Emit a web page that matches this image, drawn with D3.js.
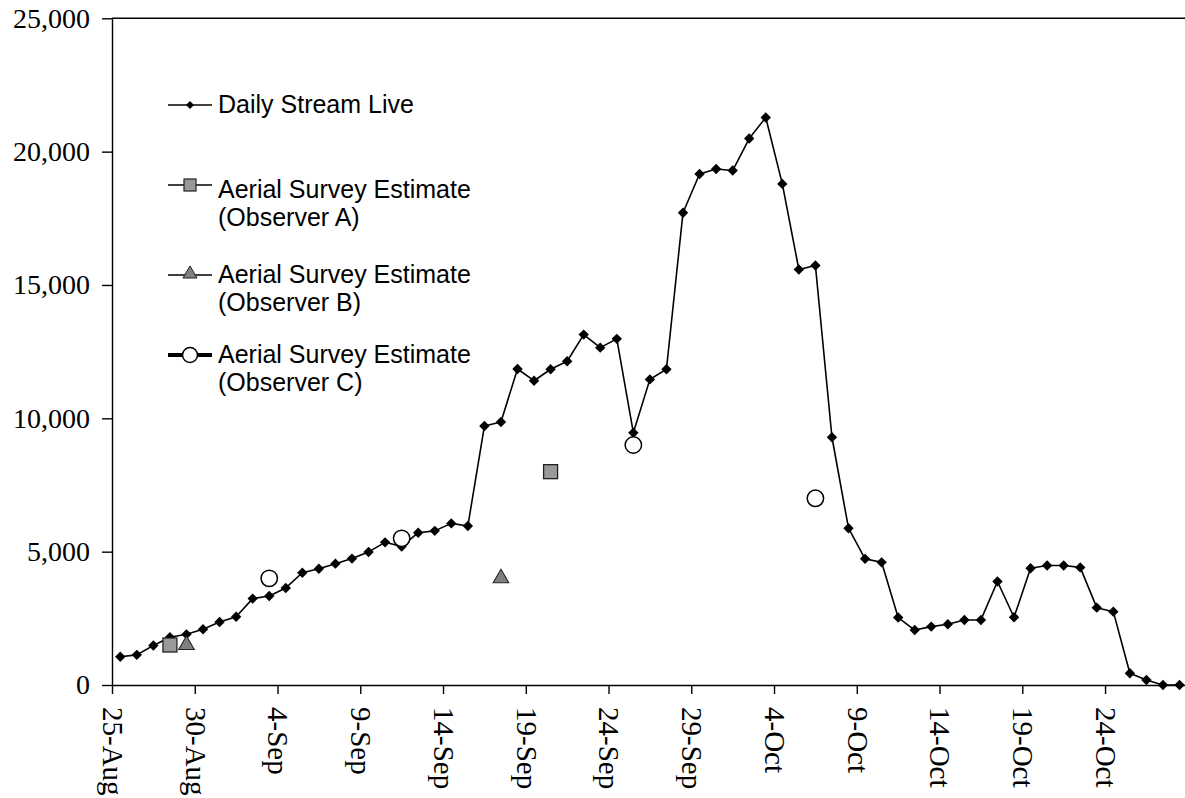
<!DOCTYPE html>
<html>
<head>
<meta charset="utf-8">
<script src="https://cdn.jsdelivr.net/npm/d3@7"></script>
<style>
  html, body { margin: 0; padding: 0; background: #fff; }
  svg { display: block; }
  .axis text { font-family: "Liberation Serif", "Times New Roman", serif; font-size: 28px; fill: #000; }
  .axis.x text { font-size: 29px; }
  .axis path, .axis line { stroke: #000; stroke-width: 1.4; }
  .legend text { font-family: "Liberation Sans", Arial, sans-serif; font-size: 25px; fill: #000; }
</style>
</head>
<body>
<svg id="chart" width="1185" height="798"></svg>
<script>
// Daily counts starting 25-Aug, one value per day through 28-Oct
const startDay = "2001-08-25";
const dailyStreamLive = [
  1060, 1130, 1480, 1790, 1900, 2090, 2360, 2560, 3240, 3340,
  3640, 4210, 4360, 4550, 4740, 4990, 5350, 5190, 5710, 5780,
  6060, 5960, 9710, 9860, 11850, 11410, 11840, 12140, 13140, 12650,
  12980, 9460, 11460, 11840, 17710, 19160, 19350, 19290, 20490, 21280,
  18790, 15580, 15730, 9290, 5880, 4730, 4600, 2530, 2060, 2190,
  2280, 2440, 2440, 3880, 2540, 4380, 4480, 4480, 4410, 2900,
  2750, 440, 190, 0, 0
];

// Aerial survey estimates by observer
const observerADates = ["2001-08-28", "2001-09-20"];
const observerAValues = [1500, 8000];
const observerBDates = ["2001-08-29", "2001-09-17"];
const observerBValues = [1500, 4000];
const observerCDates = ["2001-09-03", "2001-09-11", "2001-09-25", "2001-10-06"];
const observerCValues = [4000, 5500, 9000, 7000];

// Axis ticks
const xTickDates = ["2001-08-25", "2001-08-30", "2001-09-04", "2001-09-09", "2001-09-14",
  "2001-09-19", "2001-09-24", "2001-09-29", "2001-10-04", "2001-10-09",
  "2001-10-14", "2001-10-19", "2001-10-24"];
const xTickLabels = ["25-Aug", "30-Aug", "4-Sep", "9-Sep", "14-Sep", "19-Sep", "24-Sep",
  "29-Sep", "4-Oct", "9-Oct", "14-Oct", "19-Oct", "24-Oct"];
const yTickValues = [0, 5000, 10000, 15000, 20000, 25000];

const legendLabels = [
  ["Daily Stream Live"],
  ["Aerial Survey Estimate", "(Observer A)"],
  ["Aerial Survey Estimate", "(Observer B)"],
  ["Aerial Survey Estimate", "(Observer C)"]
];

const parse = d3.utcParse("%Y-%m-%d");
const start = parse(startDay);
const endExclusive = d3.utcDay.offset(start, dailyStreamLive.length);
const mid = d => d3.utcHour.offset(d, 12);

const svg = d3.select("#chart");
const plotLeft = 112, plotTop = 18.3, plotBottom = 685, plotRight = 1187.8;

const x = d3.scaleUtc().domain([start, endExclusive]).range([plotLeft, plotRight]);
const y = d3.scaleLinear().domain([0, 25000]).range([plotBottom, plotTop]);

const daily = dailyStreamLive.map((v, i) => ({ date: d3.utcDay.offset(start, i), value: v }));
const pack = (dates, values) => dates.map((d, i) => ({ date: parse(d), value: values[i] }));
const obsA = pack(observerADates, observerAValues);
const obsB = pack(observerBDates, observerBValues);
const obsC = pack(observerCDates, observerCValues);

// Top border of the plot area
svg.append("line")
  .attr("x1", plotLeft).attr("x2", plotRight)
  .attr("y1", y(25000)).attr("y2", y(25000))
  .attr("stroke", "#000").attr("stroke-width", 1.4);

// Y axis
svg.append("g").attr("class", "axis y")
  .attr("transform", `translate(${plotLeft},0)`)
  .call(d3.axisLeft(y).tickValues(yTickValues).tickFormat(d3.format(","))
    .tickSize(10).tickSizeOuter(0).tickPadding(12));

// X axis with rotated date labels
const xAxis = svg.append("g").attr("class", "axis x")
  .attr("transform", `translate(0,${plotBottom})`)
  .call(d3.axisBottom(x).tickValues(xTickDates.map(parse))
    .tickFormat((d, i) => xTickLabels[i]).tickSize(9).tickSizeOuter(0));
xAxis.selectAll("text")
  .attr("transform", "rotate(90)")
  .attr("x", 22).attr("y", 0).attr("dy", "0.33em")
  .style("text-anchor", "start");

// Daily line
const line = d3.line().x(d => x(mid(d.date))).y(d => y(d.value));
svg.append("path").datum(daily)
  .attr("d", line)
  .attr("fill", "none").attr("stroke", "#000").attr("stroke-width", 1.6)
  .attr("stroke-linejoin", "round");

const diamond = s => `M0,${-s}L${s},0L0,${s}L${-s},0Z`;

svg.append("g").selectAll("path").data(daily).join("path")
  .attr("transform", d => `translate(${x(mid(d.date))},${y(d.value)})`)
  .attr("d", diamond(5.2))
  .attr("fill", "#000");

// Observer A: grey squares
const sq = 14;
svg.append("g").selectAll("rect").data(obsA).join("rect")
  .attr("x", d => x(mid(d.date)) - sq / 2)
  .attr("y", d => y(d.value) - sq / 2)
  .attr("width", sq).attr("height", sq)
  .attr("fill", "#999999").attr("stroke", "#222").attr("stroke-width", 1.3);

// Observer B: grey triangles
const tri = d3.symbol().type(d3.symbolTriangle).size(105);
svg.append("g").selectAll("path").data(obsB).join("path")
  .attr("transform", d => `translate(${x(mid(d.date))},${y(d.value)})`)
  .attr("d", tri())
  .attr("fill", "#808080").attr("stroke", "#222").attr("stroke-width", 1.1);

// Observer C: open circles
svg.append("g").selectAll("circle").data(obsC).join("circle")
  .attr("cx", d => x(mid(d.date)))
  .attr("cy", d => y(d.value))
  .attr("r", 8.2)
  .attr("fill", "#fff").attr("stroke", "#000").attr("stroke-width", 1.5);

// Legend
const legend = svg.append("g").attr("class", "legend");
const lx1 = 168, lx2 = 212, mx = 190, tx = 218;
const entries = [
  { markY: 105, baselines: [113], width: 1.5 },
  { markY: 185, baselines: [198, 226], width: 1.5 },
  { markY: 275, baselines: [283, 311], width: 1.5 },
  { markY: 355, baselines: [363, 391], width: 3.8 }
];
entries.forEach((e, i) => {
  const g = legend.append("g");
  g.append("line")
    .attr("x1", lx1).attr("x2", lx2).attr("y1", e.markY).attr("y2", e.markY)
    .attr("stroke", "#000").attr("stroke-width", e.width);
  if (i === 0) {
    g.append("path").attr("transform", `translate(${mx},${e.markY})`)
      .attr("d", diamond(4)).attr("fill", "#000");
  } else if (i === 1) {
    g.append("rect").attr("x", mx - 6).attr("y", e.markY - 6)
      .attr("width", 12).attr("height", 12)
      .attr("fill", "#999999").attr("stroke", "#222").attr("stroke-width", 1.2);
  } else if (i === 2) {
    g.append("path").attr("transform", `translate(${mx},${e.markY - 1})`)
      .attr("d", d3.symbol().type(d3.symbolTriangle).size(85)())
      .attr("fill", "#808080").attr("stroke", "#222").attr("stroke-width", 1);
  } else {
    g.append("circle").attr("cx", mx).attr("cy", e.markY).attr("r", 7.5)
      .attr("fill", "#fff").attr("stroke", "#000").attr("stroke-width", 1.5);
  }
  legendLabels[i].forEach((t, j) => {
    g.append("text").attr("x", tx).attr("y", e.baselines[j]).text(t);
  });
});
</script>
</body>
</html>
